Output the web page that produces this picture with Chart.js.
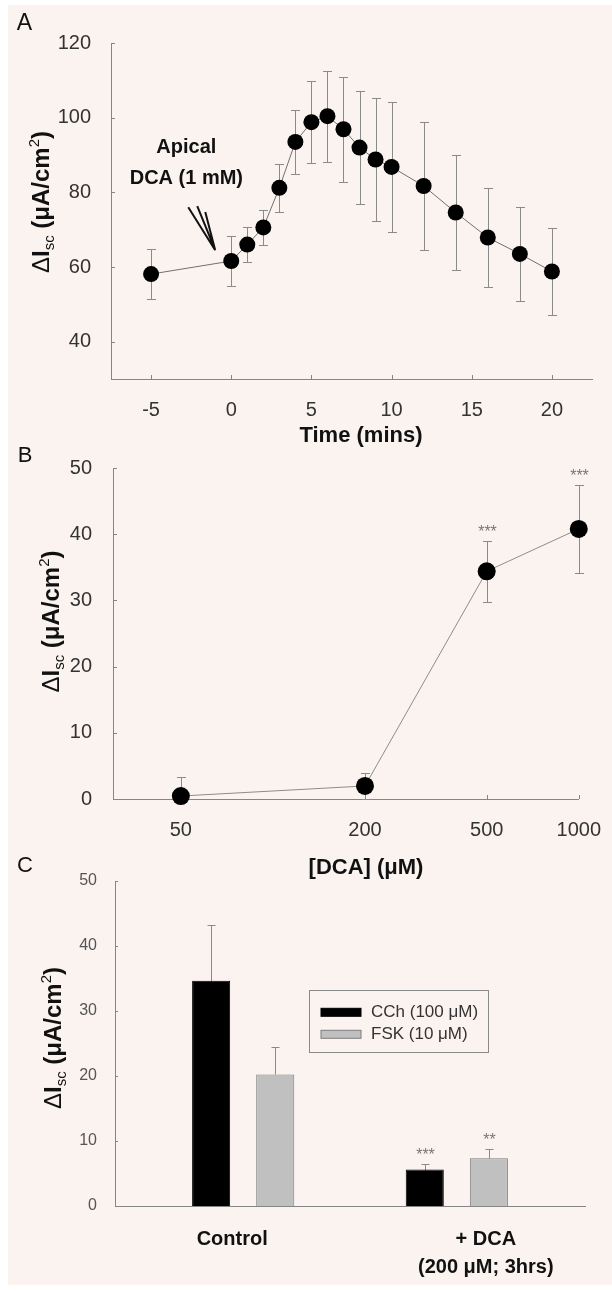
<!DOCTYPE html>
<html lang="en">
<head>
  <meta charset="UTF-8" />
  <title>DCA and short-circuit current</title>
  <style>
    body {
      margin: 0;
      width: 612px;
      height: 1291px;
      position: relative;
      overflow: hidden;
      background: #fff;
    }
    .panel-bg {
      position: absolute;
      left: 8px;
      top: 5px;
      width: 604px;
      height: 1280px;
      background: #fbf3f0;
    }
    canvas { position: absolute; left: 0; }
    #chartA { top: 0; }
    #chartB { top: 440px; }
    #chartC { top: 850px; }
  </style>
</head>
<body>
  <div class="panel-bg"></div>
  <canvas id="chartA" width="612" height="450"></canvas>
  <canvas id="chartB" width="612" height="440"></canvas>
  <canvas id="chartC" width="612" height="441"></canvas>

  <script src="https://cdn.jsdelivr.net/npm/chart.js"></script>
  <script>
    // Panel A - time course after apical DCA
    const timeMins = [-5, 0, 1, 2, 3, 4, 5, 6, 7, 8, 9, 10, 12, 14, 16, 18, 20];
    const iscA = [58.1, 61.6, 66.0, 70.6, 81.2, 93.5, 98.8, 100.4, 96.9, 92.0, 88.8, 86.8, 81.7, 74.6, 67.9, 63.5, 58.8];
    const semA = [6.7, 6.7, 4.6, 4.6, 6.4, 8.6, 11.0, 12.2, 14.0, 15.1, 16.5, 17.5, 17.2, 15.5, 13.2, 12.6, 11.7];
    const timeTicks = [-5, 0, 5, 10, 15, 20];
    const iscTicksA = [40, 60, 80, 100, 120];

    // Panel B - concentration response
    const dcaConc = [50, 200, 500, 1000];
    const iscB = [0.45, 1.97, 34.4, 40.8];
    const semB = [2.9, 1.9, 4.6, 6.6];
    const starsB = ['', '', '***', '***'];
    const iscTicksB = [0, 10, 20, 30, 40, 50];

    // Panel C - CCh / FSK responses
    const groupLabels = [['Control'], ['+ DCA', '(200 μM; 3hrs)']];
    const seriesC = ['CCh (100 μM)', 'FSK (10 μM)'];
    const cchMeans = [34.65, 5.6];
    const cchSem = [8.55, 0.9];
    const cchStars = ['', '***'];
    const fskMeans = [20.25, 7.35];
    const fskSem = [4.25, 1.45];
    const fskStars = ['', '**'];
    const iscTicksC = [0, 10, 20, 30, 40, 50];

    const FONT = "'Liberation Sans', Arial, sans-serif";
    const AXIS = '#858585';
    const ERR = '#8a8a8a';
    Chart.defaults.font.family = FONT;
    Chart.defaults.color = '#333';
    Chart.defaults.animation = false;
    Chart.defaults.events = [];

    function label(ctx, text, x, y, font, color) {
      ctx.save();
      ctx.font = font;
      ctx.fillStyle = color || '#111';
      ctx.textAlign = 'center';
      ctx.textBaseline = 'middle';
      ctx.fillText(text, x, y);
      ctx.restore();
    }

    // rotated "ΔIsc (μA/cm2)" with sub/superscript
    function iscTitle(ctx, cx, cy, size) {
      const small = Math.round(size * 0.64);
      const parts = [
        ['Δ', `${size}px ${FONT}`, 0],
        ['I', `bold ${size}px ${FONT}`, 0],
        ['sc', `${small}px ${FONT}`, size * 0.22],
        [' (μA/cm', `bold ${size}px ${FONT}`, 0],
        ['2', `${small}px ${FONT}`, -size * 0.42],
        [')', `bold ${size}px ${FONT}`, 0]
      ];
      ctx.save();
      ctx.translate(cx, cy);
      ctx.rotate(-Math.PI / 2);
      ctx.fillStyle = '#111';
      let total = 0;
      parts.forEach(p => { ctx.font = p[1]; total += ctx.measureText(p[0]).width; });
      let x = -total / 2;
      parts.forEach(p => {
        ctx.font = p[1];
        ctx.fillText(p[0], x, size * 0.36 + p[2]);
        x += ctx.measureText(p[0]).width;
      });
      ctx.restore();
    }

    const errorBars = {
      id: 'errorBars',
      beforeDatasetsDraw(chart, args, o) {
        const { ctx, chartArea: a } = chart;
        const ys = chart.scales.y;
        const stars = [];
        ctx.save();
        ctx.beginPath();
        ctx.rect(0, a.top - 1, chart.width, a.height + 2);   // clip only top/bottom
        ctx.clip();
        ctx.strokeStyle = ERR;
        ctx.lineWidth = 1;
        chart.data.datasets.forEach((ds, di) => {
          chart.getDatasetMeta(di).data.forEach((el, i) => {
            const v = ds.data[i].y, e = ds.errors[i];
            const x = Math.round(el.x) + 0.5;
            const top = Math.round(ys.getPixelForValue(v + e)) + 0.5;
            const bot = Math.round(ys.getPixelForValue(o.upOnly ? v : v - e)) + 0.5;
            ctx.beginPath();
            ctx.moveTo(x, top); ctx.lineTo(x, bot);
            ctx.moveTo(x - o.cap, top); ctx.lineTo(x + o.cap, top);
            if (!o.upOnly) { ctx.moveTo(x - o.cap, bot); ctx.lineTo(x + o.cap, bot); }
            ctx.stroke();
            if (ds.stars && ds.stars[i]) stars.push([ds.stars[i], x, top]);
          });
        });
        ctx.restore();
        ctx.save();
        ctx.font = `16px ${FONT}`;
        ctx.fillStyle = '#777';
        ctx.textAlign = 'center';
        stars.forEach(s => ctx.fillText(s[0], s[1], s[2] - 14 + 9));
        ctx.restore();
      }
    };

    const innerTicks = {
      id: 'innerTicks',
      beforeDatasetsDraw(chart, args, o) {
        const { ctx, chartArea: a, scales } = chart;
        ctx.save();
        ctx.strokeStyle = AXIS;
        ctx.lineWidth = 1;
        ctx.beginPath();
        if (o.x) scales.x.ticks.forEach(t => {
          const p = Math.round(scales.x.getPixelForValue(t.value)) + 0.5;
          ctx.moveTo(p, a.bottom); ctx.lineTo(p, a.bottom - o.x);
        });
        if (o.y) scales.y.ticks.forEach(t => {
          const p = Math.round(scales.y.getPixelForValue(t.value)) + 0.5;
          ctx.moveTo(a.left, p); ctx.lineTo(a.left + o.y, p);
        });
        ctx.stroke();
        ctx.restore();
      }
    };

    const fixedTicks = arr => s => { s.ticks = arr.map(v => ({ value: v })); };

    // ---------- A ----------
    new Chart(document.getElementById('chartA'), {
      type: 'line',
      data: {
        datasets: [{
          data: timeMins.map((t, i) => ({ x: t, y: iscA[i] })),
          errors: semA,
          borderColor: '#6f6f6f',
          borderWidth: 1,
          pointRadius: 8,
          pointBackgroundColor: '#000',
          pointBorderColor: '#000',
          pointBorderWidth: 0,
          clip: false
        }]
      },
      options: {
        responsive: false,
        layout: { padding: { left: 0, right: 20, top: 43, bottom: 31 } },
        plugins: {
          legend: { display: false },
          tooltip: { enabled: false },
          errorBars: { cap: 4.5 },
          innerTicks: { x: 4, y: 4 }
        },
        scales: {
          x: {
            type: 'linear', min: -7.5, max: 22.5,
            grid: { display: false },
            border: { color: AXIS },
            afterBuildTicks: fixedTicks(timeTicks),
            afterFit: s => { s.height = 40; },
            ticks: { font: { size: 20 }, color: '#333', padding: 11, maxRotation: 0, autoSkip: false }
          },
          y: {
            min: 30, max: 120,
            grid: { display: false },
            border: { color: AXIS },
            afterBuildTicks: fixedTicks(iscTicksA),
            afterFit: s => { s.width = 111; },
            ticks: { font: { size: 20 }, color: '#333', padding: 12 }
          }
        }
      },
      plugins: [innerTicks, errorBars, {
        id: 'textA',
        afterDraw(chart) {
          const { ctx, scales: { x, y } } = chart;
          label(ctx, 'A', 24.5, 24, `23px ${FONT}`);
          iscTitle(ctx, 40, 202, 24);
          label(ctx, 'Time (mins)', 361, 436, `bold 22px ${FONT}`);
          const nx = x.getPixelForValue(-2.8);
          label(ctx, 'Apical', nx, y.getPixelForValue(91.9), `bold 20px ${FONT}`);
          label(ctx, 'DCA (1 mM)', nx, y.getPixelForValue(83.65), `bold 20px ${FONT}`);
          // arrow pointing at the moment of addition
          const tip = [x.getPixelForValue(-1.0), y.getPixelForValue(64.5)];
          const tails = [[-2.68, 76.0], [-2.12, 76.3], [-1.62, 74.7]];
          ctx.save();
          ctx.strokeStyle = '#111';
          ctx.lineWidth = 2;
          ctx.beginPath();
          tails.forEach(t => {
            ctx.moveTo(x.getPixelForValue(t[0]), y.getPixelForValue(t[1]));
            ctx.lineTo(tip[0], tip[1]);
          });
          ctx.stroke();
          ctx.restore();
        }
      }]
    });

    // ---------- B ----------
    new Chart(document.getElementById('chartB'), {
      type: 'line',
      data: {
        datasets: [{
          data: dcaConc.map((c, i) => ({ x: c, y: iscB[i] })),
          errors: semB,
          stars: starsB,
          borderColor: '#8c8c8c',
          borderWidth: 1,
          pointRadius: 9,
          pointBackgroundColor: '#000',
          pointBorderColor: '#000',
          pointBorderWidth: 0,
          clip: false
        }]
      },
      options: {
        responsive: false,
        layout: { padding: { left: 0, right: 27, top: 28, bottom: 41 } },
        plugins: {
          legend: { display: false },
          tooltip: { enabled: false },
          errorBars: { cap: 4.5 },
          innerTicks: { x: 4, y: 4 }
        },
        scales: {
          x: {
            type: 'logarithmic', min: 30, max: 1000,
            grid: { display: false },
            border: { color: AXIS },
            afterBuildTicks: fixedTicks(dcaConc),
            afterFit: s => { s.height = 40; },
            ticks: { font: { size: 20 }, color: '#333', padding: 11, maxRotation: 0, autoSkip: false, callback: v => String(v) }
          },
          y: {
            min: 0, max: 50,
            grid: { display: false },
            border: { color: AXIS },
            afterBuildTicks: fixedTicks(iscTicksB),
            afterFit: s => { s.width = 113; },
            ticks: { font: { size: 20 }, color: '#333', padding: 13 }
          }
        }
      },
      plugins: [innerTicks, errorBars, {
        id: 'textB',
        afterDraw(chart) {
          const { ctx } = chart;
          label(ctx, 'B', 25, 16, `22px ${FONT}`);
          iscTitle(ctx, 50, 181.5, 24);
          label(ctx, '[DCA] (μM)', 366, 428, `bold 22px ${FONT}`);
        }
      }]
    });

    // ---------- C ----------
    new Chart(document.getElementById('chartC'), {
      type: 'bar',
      data: {
        datasets: [{
          label: seriesC[0],
          data: cchMeans.map((v, i) => ({ x: i, y: v })),
          errors: cchSem,
          stars: cchStars,
          backgroundColor: '#000',
          borderColor: '#000',
          borderWidth: 1,
          categoryPercentage: 0.6,
          barPercentage: 0.594
        }, {
          label: seriesC[1],
          data: fskMeans.map((v, i) => ({ x: i, y: v })),
          errors: fskSem,
          stars: fskStars,
          backgroundColor: '#c0c0c0',
          borderColor: '#7d7d7d',
          borderWidth: 1,
          categoryPercentage: 0.6,
          barPercentage: 0.594
        }]
      },
      options: {
        responsive: false,
        layout: { padding: { left: 0, right: 27, top: 31, bottom: 45 } },
        plugins: {
          legend: { display: false },
          tooltip: { enabled: false },
          errorBars: { cap: 4, upOnly: true },
          innerTicks: { x: 0, y: 3 }
        },
        scales: {
          x: {
            type: 'linear', offset: false, min: -0.6, max: 1.6,
            grid: { display: false },
            border: { color: AXIS },
            afterBuildTicks: fixedTicks([0, 1]),
            afterFit: s => { s.height = 40; },
            ticks: { display: false }
          },
          y: {
            min: 0, max: 50,
            grid: { display: false },
            border: { color: AXIS },
            afterBuildTicks: fixedTicks(iscTicksC),
            afterFit: s => { s.width = 115; },
            ticks: { font: { size: 16 }, color: '#555', padding: 10 }
          }
        }
      },
      plugins: [innerTicks, errorBars, {
        id: 'textC',
        afterDraw(chart) {
          const { ctx, chartArea: a, scales: { x } } = chart;
          label(ctx, 'C', 25, 16, `22px ${FONT}`);
          iscTitle(ctx, 52, 188, 24);
          // group labels, shifted as in the figure
          const shift = [-11, 29];
          groupLabels.forEach((lines, i) => {
            const gx = x.getPixelForValue(i) + shift[i];
            lines.forEach((t, j) => label(ctx, t, gx, 389 + j * 28, `bold 20px ${FONT}`));
          });
          // legend box
          const bx = a.left + 193.5, by = a.top + 109, bw = 179, bh = 62;
          ctx.save();
          ctx.strokeStyle = '#8a8a8a';
          ctx.lineWidth = 1;
          ctx.strokeRect(Math.round(bx) + 0.5, Math.round(by) + 0.5, bw, bh);
          chart.data.datasets.forEach((ds, i) => {
            const ry = by + 22.3 + i * 22;
            ctx.fillStyle = ds.backgroundColor;
            ctx.fillRect(bx + 12.5, ry - 4, 40, 8);
            ctx.strokeStyle = ds.borderColor;
            ctx.strokeRect(bx + 12.5, ry - 4, 40, 8);
            ctx.fillStyle = '#333';
            ctx.font = `17px ${FONT}`;
            ctx.textAlign = 'left';
            ctx.textBaseline = 'middle';
            ctx.fillText(ds.label, bx + 62.5, ry);
          });
          ctx.restore();
        }
      }]
    });
  </script>
</body>
</html>
